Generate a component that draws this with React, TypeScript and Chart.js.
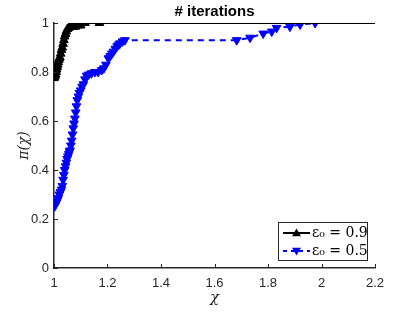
import React, { useEffect, useRef } from "react";
import { Chart, registerables } from "chart.js";
Chart.register(...registerables);

const xTicks = [1, 1.2, 1.4, 1.6, 1.8, 2, 2.2];
const yTicks = [0, 0.2, 0.4, 0.6, 0.8, 1];

const seriesALabel = "ε₀ = 0.9";
const seriesAX = [1.0, 1.002, 1.004, 1.006, 1.008, 1.01, 1.012, 1.014, 1.016, 1.018, 1.02, 1.022, 1.025, 1.028, 1.031, 1.034, 1.037, 1.04, 1.043, 1.046, 1.05, 1.055, 1.06, 1.066, 1.072, 1.08, 1.091, 1.1, 1.116, 1.17, 2.2];
const seriesAY = [0.775, 0.78, 0.785, 0.79, 0.8, 0.81, 0.82, 0.83, 0.84, 0.85, 0.855, 0.86, 0.875, 0.89, 0.9, 0.915, 0.93, 0.945, 0.955, 0.965, 0.975, 0.98, 0.985, 0.985, 0.985, 0.985, 0.99, 0.99, 1.0, 1.0, 1.0];

const seriesBLabel = "ε₀ = 0.5";
const seriesBX = [1.0, 1.004, 1.008, 1.012, 1.016, 1.02, 1.024, 1.028, 1.031, 1.034, 1.037, 1.04, 1.043, 1.046, 1.049, 1.052, 1.055, 1.058, 1.06, 1.063, 1.066, 1.069, 1.072, 1.075, 1.078, 1.081, 1.084, 1.087, 1.091, 1.095, 1.1, 1.105, 1.11, 1.116, 1.122, 1.13, 1.14, 1.153, 1.165, 1.178, 1.186, 1.194, 1.203, 1.21, 1.216, 1.222, 1.229, 1.236, 1.242, 1.247, 1.256, 1.265, 1.683, 1.733, 1.782, 1.814, 1.832, 1.882, 1.92, 1.976, 2.2];
const seriesBY = [0.25, 0.255, 0.265, 0.275, 0.285, 0.3, 0.31, 0.32, 0.335, 0.36, 0.38, 0.4, 0.415, 0.43, 0.445, 0.455, 0.465, 0.475, 0.48, 0.5, 0.52, 0.545, 0.57, 0.59, 0.61, 0.635, 0.66, 0.685, 0.7, 0.715, 0.725, 0.74, 0.75, 0.77, 0.785, 0.79, 0.795, 0.8, 0.8, 0.808, 0.815, 0.83, 0.856, 0.865, 0.875, 0.883, 0.895, 0.905, 0.912, 0.917, 0.925, 0.93, 0.93, 0.94, 0.957, 0.965, 0.98, 0.985, 0.994, 1.0, 1.0];

const titleText = "# iterations";
const xLabel = "χ";
const yLabel = "π(χ)";

const AX = "#262626";
const SANS = "'Liberation Sans', Arial, sans-serif";
const SERIF = "'DejaVu Serif', 'Liberation Serif', serif";

const decorPlugin = {
  id: "decor",
  afterDraw(chart: any) {
    const ctx = chart.ctx;
    const xs = chart.scales.x;
    const ys = chart.scales.y;
    const ca = chart.chartArea;
    ctx.save();
    ctx.strokeStyle = AX;
    ctx.lineWidth = 1;
    xTicks.forEach((v) => {
      const px = Math.round(xs.getPixelForValue(v)) + 0.5;
      ctx.beginPath();
      ctx.moveTo(px, ca.bottom);
      ctx.lineTo(px, ca.bottom - 4);
      ctx.stroke();
    });
    yTicks.forEach((v) => {
      const py = Math.round(ys.getPixelForValue(v)) + 0.5;
      ctx.beginPath();
      ctx.moveTo(ca.left, py);
      ctx.lineTo(ca.left + 4, py);
      ctx.stroke();
    });
    ctx.fillStyle = "#000";
    ctx.font = `bold 15px ${SANS}`;
    ctx.textAlign = "center";
    ctx.textBaseline = "middle";
    ctx.fillText(titleText, (ca.left + ca.right) / 2, 12);
    ctx.fillStyle = AX;
    ctx.font = `italic 15px ${SERIF}`;
    ctx.fillText(xLabel, (ca.left + ca.right) / 2, 298);
    ctx.save();
    ctx.translate(24, (ca.top + ca.bottom) / 2);
    ctx.rotate(-Math.PI / 2);
    ctx.font = `italic 14px ${SERIF}`;
    ctx.fillText(yLabel, 0, 0);
    ctx.restore();
    const bx = 278.5, by = 222.5, bw = 89, bh = 38;
    ctx.fillStyle = "#fff";
    ctx.fillRect(bx, by, bw, bh);
    ctx.strokeStyle = AX;
    ctx.lineWidth = 1;
    ctx.strokeRect(bx, by, bw, bh);
    const entries = [
      { y: 233, color: "#000", dash: [] as number[], rot: 0, label: seriesALabel },
      { y: 251, color: "#0000ff", dash: [4, 4], rot: 180, label: seriesBLabel },
    ];
    entries.forEach((e) => {
      ctx.strokeStyle = e.color;
      ctx.lineWidth = 2;
      ctx.setLineDash(e.dash);
      ctx.beginPath();
      ctx.moveTo(283, e.y);
      ctx.lineTo(310, e.y);
      ctx.stroke();
      ctx.setLineDash([]);
      ctx.fillStyle = e.color;
      ctx.beginPath();
      const s = 4.5;
      if (e.rot === 0) {
        ctx.moveTo(296.5, e.y - s);
        ctx.lineTo(296.5 + s, e.y + s * 0.7);
        ctx.lineTo(296.5 - s, e.y + s * 0.7);
      } else {
        ctx.moveTo(296.5, e.y + s);
        ctx.lineTo(296.5 + s, e.y - s * 0.7);
        ctx.lineTo(296.5 - s, e.y - s * 0.7);
      }
      ctx.closePath();
      ctx.fill();
      ctx.fillStyle = "#000";
      ctx.font = `14px ${SERIF}`;
      ctx.textAlign = "left";
      ctx.textBaseline = "middle";
      ctx.fillText(e.label, 312, e.y);
    });
    ctx.restore();
  },
};

export default function App() {
  const ref = useRef<HTMLCanvasElement>(null);
  useEffect(() => {
    if (!ref.current) return;
    const dataA = seriesAX.map((x, i) => ({ x, y: seriesAY[i] }));
    const dataB = seriesBX.map((x, i) => ({ x, y: seriesBY[i] }));
    const radA = seriesAX.map((_, i) => (i === seriesAX.length - 1 ? 0 : 5));
    const radB = seriesBX.map((_, i) => (i === seriesBX.length - 1 ? 0 : 5));
    const chart = new Chart(ref.current, {
      type: "line",
      data: {
        datasets: [
          {
            label: seriesALabel,
            data: dataA,
            borderColor: "#000",
            backgroundColor: "#000",
            borderWidth: 2,
            pointStyle: "triangle",
            pointRadius: radA,
            pointBorderWidth: 1,
            pointRotation: 0,
            tension: 0,
          },
          {
            label: seriesBLabel,
            data: dataB,
            borderColor: "#0000ff",
            backgroundColor: "#0000ff",
            borderWidth: 2,
            borderDash: [6, 5],
            pointStyle: "triangle",
            pointRadius: radB,
            pointBorderWidth: 1,
            pointRotation: 180,
            tension: 0,
          },
        ],
      },
      options: {
        animation: false,
        responsive: false,
        layout: { padding: { left: 0, right: 40, top: 23, bottom: 0 } },
        plugins: { legend: { display: false }, tooltip: { enabled: false }, title: { display: false } },
        scales: {
          x: {
            type: "linear",
            min: 1,
            max: 2.2,
            afterBuildTicks: (s: any) => {
              s.ticks = xTicks.map((v) => ({ value: v }));
            },
            afterFit: (s: any) => {
              s.height = 44;
            },
            grid: { display: true, drawOnChartArea: false, drawTicks: false },
            border: { display: true, color: AX, width: 1.5 },
            ticks: {
              color: AX,
              font: { family: SANS, size: 13 },
              padding: 8,
              maxRotation: 0,
              callback: (v: any) => String(v),
            },
          },
          y: {
            type: "linear",
            min: 0,
            max: 1,
            afterBuildTicks: (s: any) => {
              s.ticks = yTicks.map((v) => ({ value: v }));
            },
            afterFit: (s: any) => {
              s.width = 54;
            },
            grid: { display: true, drawOnChartArea: false, drawTicks: false },
            border: { display: true, color: AX, width: 1.5 },
            ticks: {
              color: AX,
              font: { family: SANS, size: 13 },
              padding: 5,
              callback: (v: any) => String(v),
            },
          },
        },
      },
      plugins: [decorPlugin],
    });
    return () => chart.destroy();
  }, []);
  return (
    <div style={{ position: "absolute", left: 0, top: 0, width: 415, height: 312, background: "#fff" }}>
      <canvas ref={ref} width={415} height={312} style={{ width: 415, height: 312 }} />
    </div>
  );
}
